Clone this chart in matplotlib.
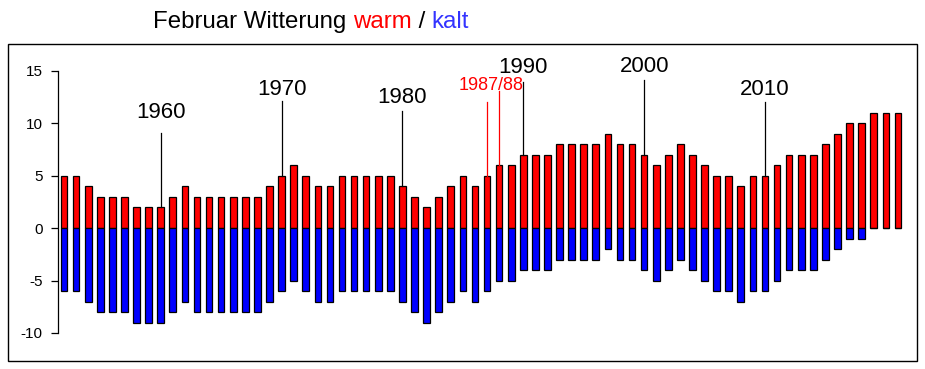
import matplotlib.pyplot as plt
import numpy as np
from matplotlib.patches import Rectangle

plt.rcParams["font.family"] = ["Liberation Sans", "DejaVu Sans"]
plt.rcParams["axes.unicode_minus"] = False

# years 1952-2021
years = np.arange(1952, 2022)
warm = [5, 5, 4, 3, 3, 3, 2, 2, 2, 3,
        4, 3, 3, 3, 3, 3, 3, 4, 5, 6,
        5, 4, 4, 5, 5, 5, 5, 5, 4, 3,
        2, 3, 4, 5, 4, 5, 6, 6, 7, 7,
        7, 8, 8, 8, 8, 9, 8, 8, 7, 6,
        7, 8, 7, 6, 5, 5, 4, 5, 5, 6,
        7, 7, 7, 8, 9, 10, 10, 11, 11, 11]
kalt = [w - 11 for w in warm]

# marked years: label, year, line top, label baseline
marks = ["1960", "1970", "1980", "1990", "2000", "2010"]
mark_years = [1960, 1970, 1980, 1990, 2000, 2010]
line_tops = [9.1, 12.1, 11.2, 13.95, 14.1, 12.0]
label_y = [10.5, 12.7, 11.95, 14.8, 14.9, 12.7]

fig = plt.figure(figsize=(9.25, 3.69), dpi=100)
fig.patches.append(Rectangle((8 / 925, 8 / 369), 909 / 925, 317 / 369, transform=fig.transFigure,
                             fill=False, edgecolor="black", linewidth=1.0))

ax = fig.add_axes([58 / 925, 36 / 369, 852 / 925, 262 / 369])
ax.bar(years, warm, width=0.55, color="#ff0000", edgecolor="black", linewidth=0.9)
ax.bar(years, kalt, width=0.55, color="#0000ff", edgecolor="black", linewidth=0.9)

ax.set_xlim(1951.5, 2022.0)
ax.set_ylim(-10, 15)
ax.set_yticks([-10, -5, 0, 5, 10, 15])
ax.set_xticks([])
for s in ["top", "right", "bottom"]:
    ax.spines[s].set_visible(False)
ax.spines["left"].set_linewidth(0.9)
ax.tick_params(axis="y", length=5, width=0.9, labelsize=11, pad=6)

for lab, yr, top, ly in zip(marks, mark_years, line_tops, label_y):
    ax.plot([yr, yr], [warm[yr - 1952], top], color="black", linewidth=0.9, clip_on=False)
    ax.text(yr, ly, lab, ha="center", va="baseline", fontsize=16, clip_on=False)

# 1987/88 in red
for yr, top in zip([1987, 1988], [12.0, 13.1]):
    ax.plot([yr, yr], [warm[yr - 1952], top], color="#ff0000", linewidth=0.9, clip_on=False)
ax.text(1987.3, 13.2, "1987/88", ha="center", va="baseline", fontsize=13, color="#ff0000", clip_on=False)

# title with coloured words
parts = ["Februar Witterung ", "warm", " / ", "kalt"]
colors = ["black", "#ff0000", "black", "#3333ff"]
fig.canvas.draw()
renderer = fig.canvas.get_renderer()
x = 153 / 925
for txt, col in zip(parts, colors):
    t = fig.text(x, 1 - 28 / 369, txt, color=col, fontsize=17.3, va="baseline", ha="left")
    bb = t.get_window_extent(renderer=renderer)
    x += bb.width / fig.bbox.width

fig.savefig("out.png", dpi=100)
